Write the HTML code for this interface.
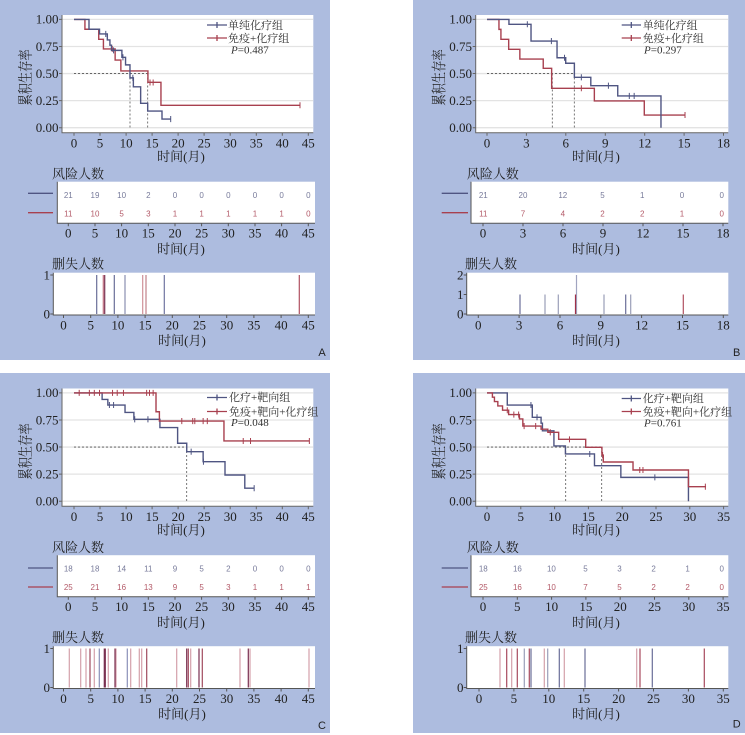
<!DOCTYPE html>
<html><head><meta charset="utf-8">
<style>
html,body{margin:0;padding:0;background:#fff;}
svg{display:block;}
.t{font-family:"Liberation Serif","Noto Serif CJK SC",serif;fill:#222;}
.n{font-family:"Liberation Sans",sans-serif;font-size:8px;}
.lg{font-family:"Liberation Serif","Noto Serif CJK SC",serif;font-size:11px;fill:#333;}
.pl{font-family:"Liberation Sans",sans-serif;font-size:11px;fill:#222;}
</style></head><body>
<svg width="745" height="735" viewBox="0 0 745 735" xmlns="http://www.w3.org/2000/svg">
<rect width="745" height="735" fill="#fff"/>
<rect x="0" y="0" width="330" height="360" fill="#adbcdf"/>
<rect x="413" y="0" width="332" height="360" fill="#adbcdf"/>
<rect x="0" y="373" width="330" height="360" fill="#adbcdf"/>
<rect x="413" y="373" width="332" height="360" fill="#adbcdf"/>

<!-- ================= PANEL A ================= -->
<g>
<rect x="62" y="15" width="251.3" height="117.7" fill="#fff"/>
<path d="M62,19.4H313.3M62,46.5H313.3M62,73.55H313.3M62,100.6H313.3M62,127.7H313.3" stroke="#e3e3e3" stroke-width="1.3"/>
<path d="M62,15V132.7H313.3" fill="none" stroke="#666"/>
<path d="M59,19.4H62M59,46.5H62M59,73.55H62M59,100.6H62M59,127.7H62M74,132.7v3M100,132.7v3M126.1,132.7v3M152.1,132.7v3M178.1,132.7v3M204.1,132.7v3M230.2,132.7v3M256.3,132.7v3M282.3,132.7v3M308.3,132.7v3" stroke="#666"/>
<g class="t" font-size="13" text-anchor="end">
<text x="58.5" y="23.7">1.00</text><text x="58.5" y="50.8">0.75</text><text x="58.5" y="77.9">0.50</text><text x="58.5" y="104.9">0.25</text><text x="58.5" y="132">0.00</text>
</g>
<g class="t" font-size="13" text-anchor="middle">
<text x="74" y="147.6">0</text><text x="100" y="147.6">5</text><text x="126.1" y="147.6">10</text><text x="152.1" y="147.6">15</text><text x="178.1" y="147.6">20</text><text x="204.1" y="147.6">25</text><text x="230.2" y="147.6">30</text><text x="256.3" y="147.6">35</text><text x="282.3" y="147.6">40</text><text x="308.3" y="147.6">45</text>
<text x="181" y="161">时间(月)</text>
</g>
<text class="t" font-size="15" text-anchor="middle" transform="translate(30.5,77.5) rotate(-90) scale(0.75,1)">累积生存率</text>
<path d="M74,73.55H147.7M130,73.55V127.7M147.7,73.55V127.7" stroke="#555" stroke-dasharray="2,2" stroke-width="0.8" fill="none"/>
<g transform="translate(74,127.7) scale(5.207,-108.3)" fill="none">
<path vector-effect="non-scaling-stroke" stroke="#a8404f" stroke-width="1.4" d="M0,1H2.1V0.909H4.75V0.816H5.65V0.727H7.9V0.625H9.0V0.524H14.2V0.419H16.7V0.207H43.4"/>
<path vector-effect="non-scaling-stroke" stroke="#a8404f" stroke-width="1" d="M7.35,0.70V0.755M14.6,0.39V0.445M15.2,0.39V0.445M43.4,0.18V0.235"/>
<path vector-effect="non-scaling-stroke" stroke="#4f5582" stroke-width="1.4" d="M0,1H2.88V0.909H4.9V0.866H6.4V0.81H6.9V0.762H7.2V0.714H9.2V0.65H9.9V0.58H10.75V0.46H11.4V0.378H12.8V0.225H14.15V0.154H16.9V0.08H18.57"/>
<path vector-effect="non-scaling-stroke" stroke="#4f5582" stroke-width="1" d="M6.1,0.838V0.894M7.6,0.686V0.742M9.4,0.622V0.678M11.3,0.432V0.488M18.57,0.052V0.108"/>
</g>
<path d="M207,25H227M217,22V28" stroke="#4f5582" stroke-width="1.3" fill="none"/>
<path d="M207,38H227M217,35V41" stroke="#a8404f" stroke-width="1.3" fill="none"/>
<text class="lg" x="228" y="29">单纯化疗组</text>
<text class="lg" x="228" y="42">免疫+化疗组</text>
<text class="lg" x="231" y="53.5"><tspan font-style="italic">P</tspan>=0.487</text>

<!-- risk table -->
<text class="t" font-size="13" x="52" y="178.5">风险人数</text>
<path d="M28,193.3H53" stroke="#4f5582" stroke-width="1.3"/>
<path d="M28,212.7H53" stroke="#a8404f" stroke-width="1.3"/>
<rect x="57.3" y="181.7" width="257.7" height="41.6" fill="#fff"/>
<path d="M57.3,181.7V223.3H315" stroke="#555" fill="none"/>
<path d="M68.3,223.3v3M95,223.3v3M121.6,223.3v3M148.3,223.3v3M175,223.3v3M201.6,223.3v3M228.3,223.3v3M255,223.3v3M281.6,223.3v3M308.3,223.3v3" stroke="#555"/>
<g class="n" text-anchor="middle" fill="#777a9a">
<text x="68.3" y="198">21</text><text x="95" y="198">19</text><text x="121.6" y="198">10</text><text x="148.3" y="198">2</text><text x="175" y="198">0</text><text x="201.6" y="198">0</text><text x="228.3" y="198">0</text><text x="255" y="198">0</text><text x="281.6" y="198">0</text><text x="308.3" y="198">0</text>
</g>
<g class="n" text-anchor="middle" fill="#b35a68">
<text x="68.3" y="216.3">11</text><text x="95" y="216.3">10</text><text x="121.6" y="216.3">5</text><text x="148.3" y="216.3">3</text><text x="175" y="216.3">1</text><text x="201.6" y="216.3">1</text><text x="228.3" y="216.3">1</text><text x="255" y="216.3">1</text><text x="281.6" y="216.3">1</text><text x="308.3" y="216.3">0</text>
</g>
<g class="t" font-size="13" text-anchor="middle">
<text x="68.3" y="237.6">0</text><text x="95" y="237.6">5</text><text x="121.6" y="237.6">10</text><text x="148.3" y="237.6">15</text><text x="175" y="237.6">20</text><text x="201.6" y="237.6">25</text><text x="228.3" y="237.6">30</text><text x="255" y="237.6">35</text><text x="281.6" y="237.6">40</text><text x="308.3" y="237.6">45</text>
<text x="181" y="253.5">时间(月)</text>
</g>

<!-- censor -->
<text class="t" font-size="13" x="52" y="268.5">删失人数</text>
<rect x="53.3" y="272.7" width="261.7" height="42.3" fill="#fff"/>
<path d="M53.3,272.7V315H315" stroke="#555" fill="none"/>
<path d="M50.3,275H53.3M50.3,314H53.3M63.5,315v3M90.7,315v3M117.9,315v3M145.1,315v3M172.3,315v3M199.5,315v3M226.7,315v3M253.9,315v3M281.1,315v3M308.3,315v3" stroke="#555"/>
<g class="t" font-size="13" text-anchor="end"><text x="50" y="279.3">1</text><text x="50" y="318.3">0</text></g>
<g stroke-width="1.2">
<path d="M96.7,275V314" stroke="#6a6e98"/>
<path d="M103.3,275V314" stroke="#c07080"/>
<path d="M104.7,275V314" stroke="#7a3050"/>
<path d="M114.3,275V314" stroke="#6a6e98"/>
<path d="M125,275V314" stroke="#8a8fb0"/>
<path d="M142.7,275V314" stroke="#d09098"/>
<path d="M146,275V314" stroke="#c08088"/>
<path d="M164.3,275V314" stroke="#7075a0"/>
<path d="M299.3,275V314" stroke="#b05060"/>
</g>
<g class="t" font-size="13" text-anchor="middle">
<text x="63.5" y="329.3">0</text><text x="90.7" y="329.3">5</text><text x="117.9" y="329.3">10</text><text x="145.1" y="329.3">15</text><text x="172.3" y="329.3">20</text><text x="199.5" y="329.3">25</text><text x="226.7" y="329.3">30</text><text x="253.9" y="329.3">35</text><text x="281.1" y="329.3">40</text><text x="308.3" y="329.3">45</text>
<text x="182" y="345">时间(月)</text>
</g>
<text class="pl" x="322" y="356" text-anchor="middle">A</text>
</g>

<!-- ================= PANEL B ================= -->
<g>
<rect x="475.7" y="15" width="252.6" height="117.7" fill="#fff"/>
<path d="M475.7,19.4H728.3M475.7,46.5H728.3M475.7,73.55H728.3M475.7,100.6H728.3M475.7,127.7H728.3" stroke="#e3e3e3" stroke-width="1.3"/>
<path d="M475.7,15V132.7H728.3" fill="none" stroke="#666"/>
<path d="M472.7,19.4H475.7M472.7,46.5H475.7M472.7,73.55H475.7M472.7,100.6H475.7M472.7,127.7H475.7M487,132.7v3M526.4,132.7v3M565.8,132.7v3M605.3,132.7v3M644.7,132.7v3M684.1,132.7v3M723.5,132.7v3" stroke="#666"/>
<g class="t" font-size="13" text-anchor="end">
<text x="472" y="23.7">1.00</text><text x="472" y="50.8">0.75</text><text x="472" y="77.9">0.50</text><text x="472" y="104.9">0.25</text><text x="472" y="132">0.00</text>
</g>
<g class="t" font-size="13" text-anchor="middle">
<text x="487" y="147.6">0</text><text x="526.4" y="147.6">3</text><text x="565.8" y="147.6">6</text><text x="605.3" y="147.6">9</text><text x="644.7" y="147.6">12</text><text x="684.1" y="147.6">15</text><text x="723.5" y="147.6">18</text>
<text x="596" y="161">时间(月)</text>
</g>
<text class="t" font-size="15" text-anchor="middle" transform="translate(444,77.5) rotate(-90) scale(0.75,1)">累积生存率</text>
<path d="M487,73.55H574.3M552.3,73.55V127.7M574.3,73.55V127.7" stroke="#555" stroke-dasharray="2,2" stroke-width="0.8" fill="none"/>
<g transform="translate(487,127.7) scale(13.14,-108.3)" fill="none">
<path vector-effect="non-scaling-stroke" stroke="#a8404f" stroke-width="1.4" d="M0,1H0.91V0.908H1.06V0.816H1.65V0.724H2.5V0.634H4.28V0.548H4.92V0.364H8.17V0.247H11.97V0.117H15.07"/>
<path vector-effect="non-scaling-stroke" stroke="#a8404f" stroke-width="1" d="M7.18,0.336V0.392M15.07,0.089V0.145"/>
<path vector-effect="non-scaling-stroke" stroke="#4f5582" stroke-width="1.4" d="M0,1H1.67V0.955H3.35V0.80H5.33V0.646H5.99V0.595H6.65V0.465H7.9V0.388H9.95V0.293H13.24V0"/>
<path vector-effect="non-scaling-stroke" stroke="#4f5582" stroke-width="1" d="M3.07,0.927V0.983M4.9,0.772V0.828M5.9,0.618V0.674M7.18,0.437V0.493M9.24,0.36V0.416M10.83,0.265V0.321M11.2,0.265V0.321"/>
</g>
<path d="M621.7,25H641M631.3,22V28" stroke="#4f5582" stroke-width="1.3" fill="none"/>
<path d="M621.7,38H641M631.3,35V41" stroke="#a8404f" stroke-width="1.3" fill="none"/>
<text class="lg" x="642.7" y="29">单纯化疗组</text>
<text class="lg" x="642.7" y="42">免疫+化疗组</text>
<text class="lg" x="644" y="53.5"><tspan font-style="italic">P</tspan>=0.297</text>

<text class="t" font-size="13" x="466.7" y="178.5">风险人数</text>
<path d="M441.7,193.3H468" stroke="#4f5582" stroke-width="1.3"/>
<path d="M441.7,212.7H468" stroke="#a8404f" stroke-width="1.3"/>
<rect x="471" y="181.7" width="257.3" height="41.6" fill="#fff"/>
<path d="M471,181.7V223.3H728.3" stroke="#555" fill="none"/>
<path d="M483,223.3v3M523,223.3v3M563,223.3v3M603,223.3v3M643,223.3v3M683,223.3v3M723,223.3v3" stroke="#555"/>
<g class="n" text-anchor="middle" fill="#777a9a">
<text x="483.3" y="198">21</text><text x="523" y="198">20</text><text x="562.8" y="198">12</text><text x="602.5" y="198">5</text><text x="642.2" y="198">1</text><text x="682" y="198">0</text><text x="721.7" y="198">0</text>
</g>
<g class="n" text-anchor="middle" fill="#b35a68">
<text x="483.3" y="216.3">11</text><text x="523" y="216.3">7</text><text x="562.8" y="216.3">4</text><text x="602.5" y="216.3">2</text><text x="642.2" y="216.3">2</text><text x="682" y="216.3">1</text><text x="721.7" y="216.3">0</text>
</g>
<g class="t" font-size="13" text-anchor="middle">
<text x="483" y="237.6">0</text><text x="523" y="237.6">3</text><text x="563" y="237.6">6</text><text x="603" y="237.6">9</text><text x="643" y="237.6">12</text><text x="683" y="237.6">15</text><text x="723" y="237.6">18</text>
<text x="596" y="253.5">时间(月)</text>
</g>

<text class="t" font-size="13" x="465" y="268.5">删失人数</text>
<rect x="466.7" y="272.7" width="261.6" height="42.3" fill="#fff"/>
<path d="M466.7,272.7V315H728.3" stroke="#555" fill="none"/>
<path d="M463.7,275H466.7M463.7,294.5H466.7M463.7,314H466.7M478.3,315v3M519.1,315v3M560,315v3M600.8,315v3M641.6,315v3M682.5,315v3M723.3,315v3" stroke="#555"/>
<g class="t" font-size="13" text-anchor="end"><text x="463.5" y="279.3">2</text><text x="463.5" y="298.8">1</text><text x="463.5" y="318.3">0</text></g>
<g stroke-width="1.2">
<path d="M520,294.5V314" stroke="#6a6e98"/>
<path d="M545,294.5V314" stroke="#9a9eb8"/>
<path d="M558.3,294.5V314" stroke="#9a9eb8"/>
<path d="M576.5,275V314" stroke="#a0a4c0"/>
<path d="M575.5,294.5V314" stroke="#a03048"/>
<path d="M604,294.5V314" stroke="#9a9eb8"/>
<path d="M625.7,294.5V314" stroke="#6a6e98"/>
<path d="M630.7,294.5V314" stroke="#9a9eb8"/>
<path d="M683.3,294.5V314" stroke="#b05060"/>
</g>
<g class="t" font-size="13" text-anchor="middle">
<text x="478.3" y="329.3">0</text><text x="519.1" y="329.3">3</text><text x="560" y="329.3">6</text><text x="600.8" y="329.3">9</text><text x="641.6" y="329.3">12</text><text x="682.5" y="329.3">15</text><text x="723.3" y="329.3">18</text>
<text x="596" y="345">时间(月)</text>
</g>
<text class="pl" x="736.7" y="356" text-anchor="middle">B</text>
</g>

<!-- ================= PANEL C ================= -->
<g transform="translate(0,373.5)">
<rect x="62" y="15" width="251.3" height="117.7" fill="#fff"/>
<path d="M62,19.4H313.3M62,46.5H313.3M62,73.55H313.3M62,100.6H313.3M62,127.7H313.3" stroke="#e3e3e3" stroke-width="1.3"/>
<path d="M62,15V132.7H313.3" fill="none" stroke="#666"/>
<path d="M59,19.4H62M59,46.5H62M59,73.55H62M59,100.6H62M59,127.7H62M74,132.7v3M100,132.7v3M126.1,132.7v3M152.1,132.7v3M178.1,132.7v3M204.1,132.7v3M230.2,132.7v3M256.3,132.7v3M282.3,132.7v3M308.3,132.7v3" stroke="#666"/>
<g class="t" font-size="13" text-anchor="end">
<text x="58.5" y="23.7">1.00</text><text x="58.5" y="50.8">0.75</text><text x="58.5" y="77.9">0.50</text><text x="58.5" y="104.9">0.25</text><text x="58.5" y="132">0.00</text>
</g>
<g class="t" font-size="13" text-anchor="middle">
<text x="74" y="147.6">0</text><text x="100" y="147.6">5</text><text x="126.1" y="147.6">10</text><text x="152.1" y="147.6">15</text><text x="178.1" y="147.6">20</text><text x="204.1" y="147.6">25</text><text x="230.2" y="147.6">30</text><text x="256.3" y="147.6">35</text><text x="282.3" y="147.6">40</text><text x="308.3" y="147.6">45</text>
<text x="181" y="161">时间(月)</text>
</g>
<text class="t" font-size="15" text-anchor="middle" transform="translate(30.5,78) rotate(-90) scale(0.75,1)">累积生存率</text>
<path d="M74,73.55H186.7M186.7,73.55V127.7" stroke="#555" stroke-dasharray="2,2" stroke-width="0.8" fill="none"/>
<g transform="translate(74,127.7) scale(5.207,-108.3)" fill="none">
<path vector-effect="non-scaling-stroke" stroke="#4f5582" stroke-width="1.4" d="M0,1H5.4V0.94H6.5V0.888H9.8V0.82H11.5V0.756H16.5V0.68H19.9V0.535H21.65V0.457H24.8V0.365H29V0.242H32.8V0.12H34.6"/>
<path vector-effect="non-scaling-stroke" stroke="#4f5582" stroke-width="1" d="M6.8,0.86V0.916M7.6,0.86V0.916M11.66,0.728V0.784M14.2,0.728V0.784M22.5,0.429V0.485M24.86,0.337V0.393M34.6,0.092V0.148"/>
<path vector-effect="non-scaling-stroke" stroke="#a8404f" stroke-width="1.4" d="M0,1H15.75V0.826H16.4V0.74H28.8V0.556H45.2"/>
<path vector-effect="non-scaling-stroke" stroke="#a8404f" stroke-width="1" d="M1,0.972V1.028M2.95,0.972V1.028M3.9,0.972V1.028M4.9,0.972V1.028M7.4,0.972V1.028M8.3,0.972V1.028M9.5,0.972V1.028M13.95,0.972V1.028M14.5,0.972V1.028M15.2,0.972V1.028M20.7,0.712V0.768M22.8,0.712V0.768M23.2,0.712V0.768M24.8,0.712V0.768M25.6,0.712V0.768M32.5,0.528V0.584M33.9,0.528V0.584M45.2,0.528V0.584"/>
</g>
<path d="M207,24H227M217,21V27" stroke="#4f5582" stroke-width="1.3" fill="none"/>
<path d="M207,38H227M217,35V41" stroke="#a8404f" stroke-width="1.3" fill="none"/>
<text class="lg" x="229" y="27.5">化疗+靶向组</text>
<text class="lg" x="229" y="42">免疫+靶向+化疗组</text>
<text class="lg" x="231" y="52.5"><tspan font-style="italic">P</tspan>=0.048</text>

<text class="t" font-size="13" x="52" y="178.5">风险人数</text>
<path d="M28,194.5H53" stroke="#4f5582" stroke-width="1.3"/>
<path d="M28,213.5H53" stroke="#a8404f" stroke-width="1.3"/>
<rect x="57.3" y="181.7" width="257.7" height="41.6" fill="#fff"/>
<path d="M57.3,181.7V223.3H315" stroke="#555" fill="none"/>
<path d="M68.3,223.3v3M95,223.3v3M121.6,223.3v3M148.3,223.3v3M175,223.3v3M201.6,223.3v3M228.3,223.3v3M255,223.3v3M281.6,223.3v3M308.3,223.3v3" stroke="#555"/>
<g class="n" text-anchor="middle" fill="#777a9a">
<text x="68.3" y="198">18</text><text x="95" y="198">18</text><text x="121.6" y="198">14</text><text x="148.3" y="198">11</text><text x="175" y="198">9</text><text x="201.6" y="198">5</text><text x="228.3" y="198">2</text><text x="255" y="198">0</text><text x="281.6" y="198">0</text><text x="308.3" y="198">0</text>
</g>
<g class="n" text-anchor="middle" fill="#b35a68">
<text x="68.3" y="216.3">25</text><text x="95" y="216.3">21</text><text x="121.6" y="216.3">16</text><text x="148.3" y="216.3">13</text><text x="175" y="216.3">9</text><text x="201.6" y="216.3">5</text><text x="228.3" y="216.3">3</text><text x="255" y="216.3">1</text><text x="281.6" y="216.3">1</text><text x="308.3" y="216.3">1</text>
</g>
<g class="t" font-size="13" text-anchor="middle">
<text x="68.3" y="237.6">0</text><text x="95" y="237.6">5</text><text x="121.6" y="237.6">10</text><text x="148.3" y="237.6">15</text><text x="175" y="237.6">20</text><text x="201.6" y="237.6">25</text><text x="228.3" y="237.6">30</text><text x="255" y="237.6">35</text><text x="281.6" y="237.6">40</text><text x="308.3" y="237.6">45</text>
<text x="181" y="253.5">时间(月)</text>
</g>

<text class="t" font-size="13" x="52" y="268.5">删失人数</text>
<rect x="53.3" y="272.7" width="261.7" height="42.3" fill="#fff"/>
<path d="M53.3,272.7V315H315" stroke="#555" fill="none"/>
<path d="M50.3,275H53.3M50.3,314H53.3M63.5,315v3M90.7,315v3M117.9,315v3M145.1,315v3M172.3,315v3M199.5,315v3M226.7,315v3M253.9,315v3M281.1,315v3M308.3,315v3" stroke="#555"/>
<g class="t" font-size="13" text-anchor="end"><text x="50" y="279.3">1</text><text x="50" y="318.3">0</text></g>
<g stroke-width="1.2">
<path d="M69.3,275V314M80.7,275V314M86,275V314M94.3,275V314M108.3,275V314M116,275V314M130.7,275V314M139.3,275V314M141.7,275V314M176.7,275V314M190.7,275V314M240,275V314M250,275V314M309,275V314" stroke="#d4a0aa"/>
<path d="M90,275V314M146.7,275V314M188.3,275V314M202.3,275V314" stroke="#a04a5e"/>
<path d="M104.3,275V314M105.3,275V314M115,275V314M186.7,275V314M199,275V314M248.3,275V314" stroke="#7a3050"/>
<path d="M99.3,275V314M127.3,275V314" stroke="#8a90b8"/>
</g>
<g class="t" font-size="13" text-anchor="middle">
<text x="63.5" y="329.3">0</text><text x="90.7" y="329.3">5</text><text x="117.9" y="329.3">10</text><text x="145.1" y="329.3">15</text><text x="172.3" y="329.3">20</text><text x="199.5" y="329.3">25</text><text x="226.7" y="329.3">30</text><text x="253.9" y="329.3">35</text><text x="281.1" y="329.3">40</text><text x="308.3" y="329.3">45</text>
<text x="182" y="345">时间(月)</text>
</g>
<text class="pl" x="322" y="355.5" text-anchor="middle">C</text>
</g>

<!-- ================= PANEL D ================= -->
<g transform="translate(0,373.5)">
<rect x="475.7" y="15" width="252.6" height="117.7" fill="#fff"/>
<path d="M475.7,19.4H728.3M475.7,46.5H728.3M475.7,73.55H728.3M475.7,100.6H728.3M475.7,127.7H728.3" stroke="#e3e3e3" stroke-width="1.3"/>
<path d="M475.7,15V132.7H728.3" fill="none" stroke="#666"/>
<path d="M472.7,19.4H475.7M472.7,46.5H475.7M472.7,73.55H475.7M472.7,100.6H475.7M472.7,127.7H475.7M487,132.7v3M520.8,132.7v3M554.6,132.7v3M588.4,132.7v3M622.2,132.7v3M656,132.7v3M689.8,132.7v3M723.6,132.7v3" stroke="#666"/>
<g class="t" font-size="13" text-anchor="end">
<text x="472" y="23.7">1.00</text><text x="472" y="50.8">0.75</text><text x="472" y="77.9">0.50</text><text x="472" y="104.9">0.25</text><text x="472" y="132">0.00</text>
</g>
<g class="t" font-size="13" text-anchor="middle">
<text x="487" y="147.6">0</text><text x="520.8" y="147.6">5</text><text x="554.6" y="147.6">10</text><text x="588.4" y="147.6">15</text><text x="622.2" y="147.6">20</text><text x="656" y="147.6">25</text><text x="689.8" y="147.6">30</text><text x="723.6" y="147.6">35</text>
<text x="596" y="161">时间(月)</text>
</g>
<text class="t" font-size="15" text-anchor="middle" transform="translate(444,78) rotate(-90) scale(0.75,1)">累积生存率</text>
<path d="M487,73.55H601.7M565.7,73.55V127.7M601.7,73.55V127.7" stroke="#555" stroke-dasharray="2,2" stroke-width="0.8" fill="none"/>
<g transform="translate(487,127.7) scale(6.76,-108.3)" fill="none">
<path vector-effect="non-scaling-stroke" stroke="#4f5582" stroke-width="1.4" d="M0,1H3.0V0.888H6.7V0.775H8.0V0.72H8.2V0.65H9.9V0.51H11.6V0.436H15.9V0.328H19.8V0.22H29.8V0"/>
<path vector-effect="non-scaling-stroke" stroke="#4f5582" stroke-width="1" d="M7.4,0.747V0.803M15.2,0.408V0.464M24.83,0.192V0.248M6.5,0.86V0.916"/>
<path vector-effect="non-scaling-stroke" stroke="#a8404f" stroke-width="1.4" d="M0,1H0.8V0.96H1.1V0.92H1.6V0.88H2.3V0.84H3.2V0.80H4.8V0.76H5.3V0.694H8.0V0.665H9.0V0.636H10.6V0.571H14.6V0.498H17.0V0.426H17.2V0.362H21.6V0.288H29.8V0.134H32.4"/>
<path vector-effect="non-scaling-stroke" stroke="#a8404f" stroke-width="1" d="M3.0,0.812V0.868M3.97,0.772V0.828M4.68,0.772V0.828M5.49,0.666V0.722M7.2,0.666V0.722M9.36,0.608V0.664M12.2,0.543V0.599M17.1,0.398V0.454M22.6,0.26V0.316M23.07,0.26V0.316M32.3,0.106V0.162"/>
</g>
<path d="M621.7,25H641M631.3,22V28" stroke="#4f5582" stroke-width="1.3" fill="none"/>
<path d="M621.7,38H641M631.3,35V41" stroke="#a8404f" stroke-width="1.3" fill="none"/>
<text class="lg" x="642.7" y="28.5">化疗+靶向组</text>
<text class="lg" x="642.7" y="42">免疫+靶向+化疗组</text>
<text class="lg" x="644" y="53"><tspan font-style="italic">P</tspan>=0.761</text>

<text class="t" font-size="13" x="466.7" y="178.5">风险人数</text>
<path d="M441.7,194.5H468" stroke="#4f5582" stroke-width="1.3"/>
<path d="M441.7,213.5H468" stroke="#a8404f" stroke-width="1.3"/>
<rect x="471" y="181.7" width="257.3" height="41.6" fill="#fff"/>
<path d="M471,181.7V223.3H728.3" stroke="#555" fill="none"/>
<path d="M483,223.3v3M517.3,223.3v3M551.6,223.3v3M585.9,223.3v3M620.2,223.3v3M654.5,223.3v3M688.8,223.3v3M723.1,223.3v3" stroke="#555"/>
<g class="n" text-anchor="middle" fill="#777a9a">
<text x="483.3" y="198">18</text><text x="517.4" y="198">16</text><text x="551.4" y="198">10</text><text x="585.5" y="198">5</text><text x="619.5" y="198">3</text><text x="653.6" y="198">2</text><text x="687.6" y="198">1</text><text x="721.7" y="198">0</text>
</g>
<g class="n" text-anchor="middle" fill="#b35a68">
<text x="483.3" y="216.3">25</text><text x="517.4" y="216.3">16</text><text x="551.4" y="216.3">10</text><text x="585.5" y="216.3">7</text><text x="619.5" y="216.3">5</text><text x="653.6" y="216.3">2</text><text x="687.6" y="216.3">2</text><text x="721.7" y="216.3">0</text>
</g>
<g class="t" font-size="13" text-anchor="middle">
<text x="483" y="237.6">0</text><text x="517.3" y="237.6">5</text><text x="551.6" y="237.6">10</text><text x="585.9" y="237.6">15</text><text x="620.2" y="237.6">20</text><text x="654.5" y="237.6">25</text><text x="688.8" y="237.6">30</text><text x="723.1" y="237.6">35</text>
<text x="596" y="253.5">时间(月)</text>
</g>

<text class="t" font-size="13" x="465" y="268.5">删失人数</text>
<rect x="466.7" y="272.7" width="261.6" height="42.3" fill="#fff"/>
<path d="M466.7,272.7V315H728.3" stroke="#555" fill="none"/>
<path d="M463.7,275H466.7M463.7,314H466.7M479,315v3M513.9,315v3M548.8,315v3M583.7,315v3M618.6,315v3M653.5,315v3M688.4,315v3M723.3,315v3" stroke="#555"/>
<g class="t" font-size="13" text-anchor="end"><text x="463.5" y="279.3">1</text><text x="463.5" y="318.3">0</text></g>
<g stroke-width="1.2">
<path d="M500,275V314M511.7,275V314M544.3,275V314M564.3,275V314M636.7,275V314" stroke="#d4a0aa"/>
<path d="M506.7,275V314M517.3,275V314M529.3,275V314M640,275V314M704.3,275V314" stroke="#a84a5e"/>
<path d="M524.3,275V314M547.7,275V314" stroke="#9a9eb8"/>
<path d="M531,275V314M559.3,275V314M585,275V314M652.3,275V314" stroke="#6a6e98"/>
</g>
<g class="t" font-size="13" text-anchor="middle">
<text x="479" y="329.3">0</text><text x="513.9" y="329.3">5</text><text x="548.8" y="329.3">10</text><text x="583.7" y="329.3">15</text><text x="618.6" y="329.3">20</text><text x="653.5" y="329.3">25</text><text x="688.4" y="329.3">30</text><text x="723.3" y="329.3">35</text>
<text x="596" y="345">时间(月)</text>
</g>
<text class="pl" x="736.7" y="354" text-anchor="middle">D</text>
</g>
</svg>
</body></html>
